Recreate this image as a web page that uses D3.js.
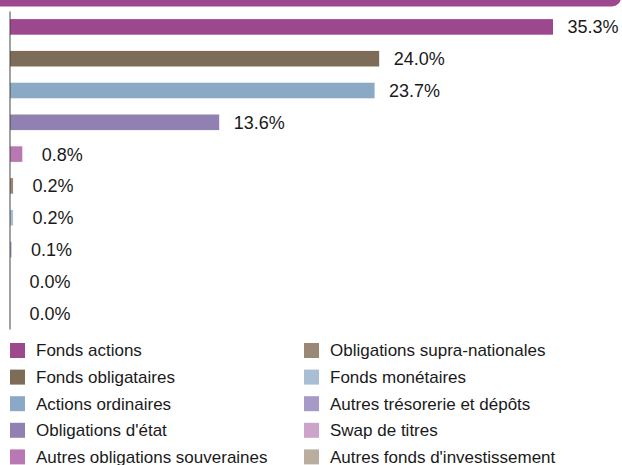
<!DOCTYPE html>
<html>
<head>
<meta charset="utf-8">
<script src="https://cdn.jsdelivr.net/npm/d3@7"></script>
<style>
  body { margin: 0; background: #fff; }
  text { font-family: "Liberation Sans", Arial, sans-serif; fill: #1a1a1a; }
</style>
</head>
<body>
<div id="chart"></div>
<script>
// Data
const categories = [
  "Fonds actions",
  "Fonds obligataires",
  "Actions ordinaires",
  "Obligations d'état",
  "Autres obligations souveraines",
  "Obligations supra-nationales",
  "Fonds monétaires",
  "Autres trésorerie et dépôts",
  "Swap de titres",
  "Autres fonds d'investissement"
]
const values = [35.3, 24.0, 23.7, 13.6, 0.8, 0.2, 0.2, 0.1, 0.0, 0.0]
const colors = [
  "#9d478e", "#7d6c58", "#8aa9c4", "#9180b2", "#b977b3",
  "#9b8776", "#a8bed2", "#a89ac6", "#cca3cb", "#b9ada0"
]

const dimensions = {
  width: 622,
  height: 465,
  left: 10,
  top: 11,
  barBottom: 329,
  xMaxPx: 553
}

const svg = d3.select('#chart')
  .append('svg')
  .attr('width', dimensions.width)
  .attr('height', dimensions.height)

// header band (cut off at top)
svg.append('rect')
  .attr('x', -20)
  .attr('y', -20)
  .attr('width', 641)
  .attr('height', 26.5)
  .attr('rx', 9)
  .attr('fill', colors[0])

// scales
const xScale = d3.scaleLinear()
  .domain([0, d3.max(values)])
  .range([dimensions.left, dimensions.xMaxPx])

const yScale = d3.scaleBand()
  .domain(categories)
  .range([dimensions.top, dimensions.barBottom])
  .paddingInner(0.51)
  .paddingOuter(0.255)

const rows = categories.map((c, i) => ({ name: c, value: values[i], color: colors[i] }))

// bars
svg.append('g')
  .selectAll('rect')
  .data(rows)
  .join('rect')
  .attr('x', xScale(0))
  .attr('y', d => yScale(d.name))
  .attr('width', d => xScale(d.value) - xScale(0))
  .attr('height', yScale.bandwidth())
  .attr('fill', d => d.color)

// value labels
svg.append('g')
  .selectAll('text')
  .data(rows)
  .join('text')
  .attr('x', d => xScale(d.value) + 40)
  .attr('y', d => yScale(d.name) + yScale.bandwidth() / 2)
  .attr('dy', '0.36em')
  .attr('text-anchor', 'middle')
  .style('font-size', '18px')
  .text(d => d.value.toFixed(1) + '%')

// axis
const yAxis = d3.axisLeft(yScale).tickSize(0).tickFormat('')
svg.append('g')
  .attr('transform', `translate(${dimensions.left - 0.5}, 0)`)
  .call(yAxis)
  .call(g => g.select('.domain').attr('stroke', '#444'))

// legend
const legendRows = 5
const legend = svg.append('g')
  .selectAll('g')
  .data(rows)
  .join('g')
  .attr('transform', (d, i) => {
    const col = Math.floor(i / legendRows)
    const row = i % legendRows
    return `translate(${col === 0 ? 10 : 304}, ${343 + row * 26.6})`
  })

legend.append('rect')
  .attr('width', 15)
  .attr('height', 15)
  .attr('fill', d => d.color)

legend.append('text')
  .attr('x', 26)
  .attr('y', 7.5)
  .attr('dy', '0.35em')
  .style('font-size', '17px')
  .text(d => d.name)
</script>
</body>
</html>
